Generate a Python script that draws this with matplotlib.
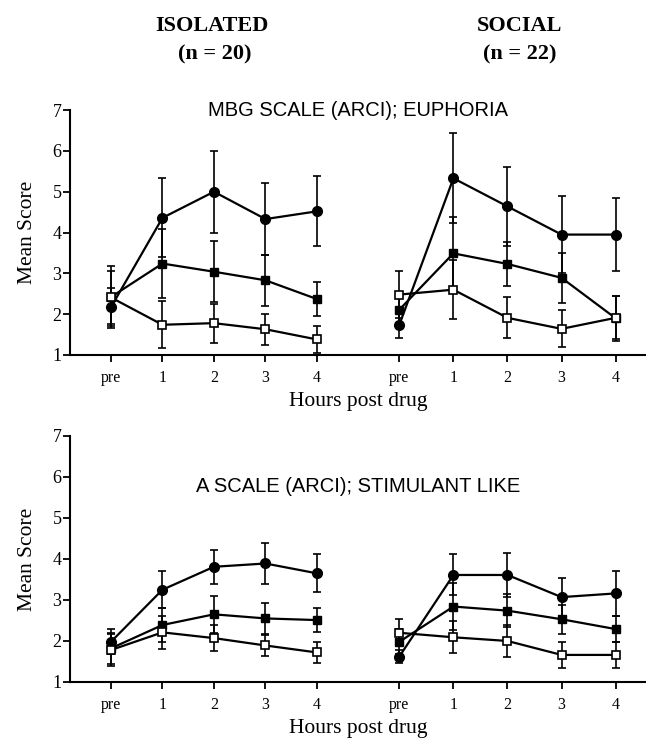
import numpy as np
import matplotlib.pyplot as plt

plt.rcParams['font.family'] = ['Liberation Serif', 'DejaVu Serif']

hour_labels = ['pre', '1', '2', '3', '4']

# MBG scale (euphoria): mean and error for each condition
mbg_iso_circle = [2.17, 4.36, 5.00, 4.33, 4.52]
mbg_iso_circle_err = [0.47, 0.97, 1.00, 0.88, 0.86]
mbg_iso_fsq = [2.42, 3.24, 3.04, 2.83, 2.37]
mbg_iso_fsq_err = [0.75, 0.84, 0.75, 0.62, 0.42]
mbg_iso_osq = [2.41, 1.74, 1.78, 1.63, 1.38]
mbg_iso_osq_err = [0.64, 0.58, 0.48, 0.38, 0.32]

mbg_soc_circle = [1.74, 5.33, 4.64, 3.95, 3.95]
mbg_soc_circle_err = [0.32, 1.10, 0.97, 0.95, 0.90]
mbg_soc_fsq = [2.11, 3.49, 3.23, 2.89, 1.90]
mbg_soc_fsq_err = [0.40, 0.90, 0.55, 0.62, 0.55]
mbg_soc_osq = [2.48, 2.60, 1.91, 1.64, 1.91]
mbg_soc_osq_err = [0.58, 0.72, 0.50, 0.45, 0.53]

# A scale (stimulant like)
a_iso_circle = [1.98, 3.25, 3.81, 3.89, 3.65]
a_iso_circle_err = [0.30, 0.45, 0.42, 0.50, 0.46]
a_iso_fsq = [1.82, 2.39, 2.65, 2.55, 2.51]
a_iso_fsq_err = [0.37, 0.42, 0.45, 0.38, 0.30]
a_iso_osq = [1.78, 2.21, 2.07, 1.89, 1.72]
a_iso_osq_err = [0.40, 0.41, 0.32, 0.26, 0.26]

a_soc_circle = [1.62, 3.61, 3.61, 3.07, 3.16]
a_soc_circle_err = [0.15, 0.50, 0.53, 0.46, 0.55]
a_soc_fsq = [1.98, 2.84, 2.74, 2.53, 2.29]
a_soc_fsq_err = [0.30, 0.58, 0.41, 0.35, 0.32]
a_soc_osq = [2.20, 2.09, 2.00, 1.66, 1.66]
a_soc_osq_err = [0.33, 0.39, 0.38, 0.31, 0.32]

x_iso = np.arange(5)
x_soc = 5.6 + 1.05 * np.arange(5)


def draw_group(ax, x, circ, circ_err, fsq, fsq_err, osq, osq_err):
    kw = dict(color='black', lw=1.6, elinewidth=1.2, capsize=3, capthick=1.2)
    ax.errorbar(x, fsq, yerr=fsq_err, marker='s', ms=6.2, mfc='black', mec='black', zorder=3, **kw)
    ax.errorbar(x, circ, yerr=circ_err, marker='o', ms=7, mfc='black', mec='black', zorder=4, **kw)
    ax.errorbar(x, osq, yerr=osq_err, marker='s', ms=6.2, mfc='white', mec='black', mew=1.2, zorder=5, **kw)


def style_axes(ax, title, title_y):
    ax.set_xlim(-0.8, 10.39)
    ax.set_ylim(1, 7)
    ax.set_yticks(range(1, 8))
    ax.set_xticks(np.concatenate([x_iso, x_soc]))
    ax.set_xticklabels(hour_labels * 2, fontsize=11.5)
    ax.tick_params(axis='y', labelsize=13, length=5, width=1.3, pad=1)
    ax.tick_params(axis='x', length=5, width=1.3, pad=6)
    for s in ['top', 'right']:
        ax.spines[s].set_visible(False)
    for s in ['left', 'bottom']:
        ax.spines[s].set_linewidth(1.5)
    ax.set_ylabel('Mean Score', fontsize=15.5, labelpad=11)
    ax.set_xlabel('Hours post drug', fontsize=15.5, labelpad=4)
    ax.text(0.5, title_y, title, transform=ax.transAxes, ha='center', va='center',
            family=['Liberation Sans', 'DejaVu Sans'], fontsize=14.5)


fig = plt.figure(figsize=(6.46, 7.42), dpi=100)
ax1 = fig.add_axes([0.108, 0.5216, 0.892, 0.330])
ax2 = fig.add_axes([0.108, 0.0809, 0.892, 0.3315])

draw_group(ax1, x_iso, mbg_iso_circle, mbg_iso_circle_err, mbg_iso_fsq, mbg_iso_fsq_err, mbg_iso_osq, mbg_iso_osq_err)
draw_group(ax1, x_soc, mbg_soc_circle, mbg_soc_circle_err, mbg_soc_fsq, mbg_soc_fsq_err, mbg_soc_osq, mbg_soc_osq_err)
style_axes(ax1, 'MBG SCALE (ARCI); EUPHORIA', 1.0)

draw_group(ax2, x_iso, a_iso_circle, a_iso_circle_err, a_iso_fsq, a_iso_fsq_err, a_iso_osq, a_iso_osq_err)
draw_group(ax2, x_soc, a_soc_circle, a_soc_circle_err, a_soc_fsq, a_soc_fsq_err, a_soc_osq, a_soc_osq_err)
style_axes(ax2, 'A SCALE (ARCI); STIMULANT LIKE', 0.793)

fig.text(212 / 646, 1 - 26 / 742, 'ISOLATED', ha='center', va='center', fontsize=16, weight='bold')
fig.text(215 / 646, 1 - 54 / 742, '(n = 20)', ha='center', va='center', fontsize=16, weight='bold')
fig.text(520 / 646, 1 - 26 / 742, 'SOCIAL', ha='center', va='center', fontsize=16, weight='bold')
fig.text(520 / 646, 1 - 54 / 742, '(n = 22)', ha='center', va='center', fontsize=16, weight='bold')

fig.savefig('out.png', dpi=100)
